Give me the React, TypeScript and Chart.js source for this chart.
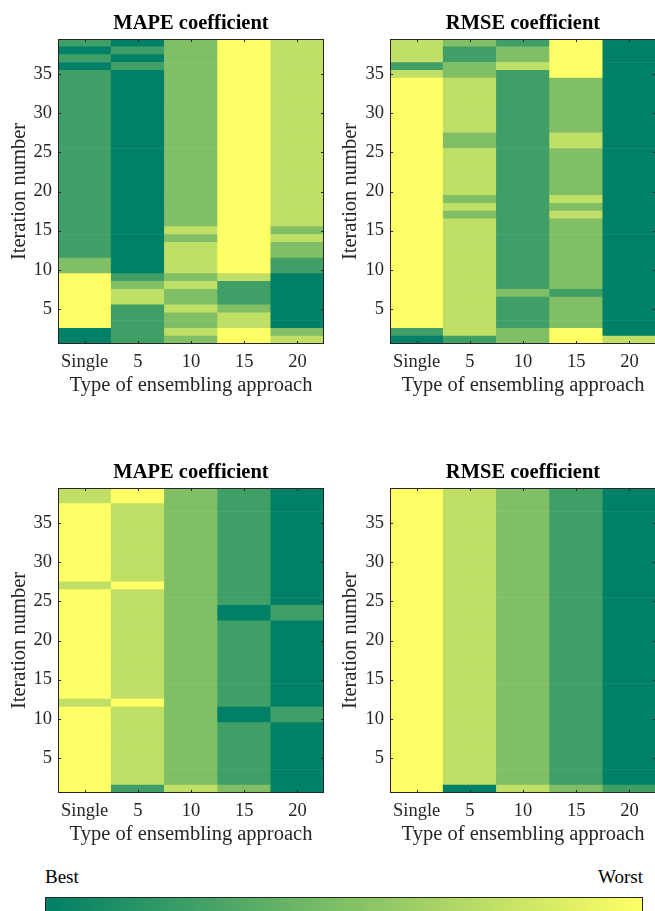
import React, { useEffect, useRef } from "react";
import { Chart, registerables } from "chart.js";

Chart.register(...registerables);

// ---------- data ----------
const CATEGORIES = ["Single", "5", "10", "15", "20"];
const Y_TICKS = [5, 10, 15, 20, 25, 30, 35];
const ITERATIONS = [
  1, 2, 3, 4, 5, 6, 7, 8, 9, 10, 11, 12, 13, 14, 15, 16, 17, 18, 19, 20,
  21, 22, 23, 24, 25, 26, 27, 28, 29, 30, 31, 32, 33, 34, 35, 36, 37, 38, 39,
];
// rank level per iteration (1 = best ... 5 = worst), listed from iteration 1 to 39
const MAPE_TOP_SINGLE = [
  1, 1, 5, 5, 5, 5, 5, 5, 5, 3,
  3, 2, 2, 2, 2, 2, 2, 2, 2, 2,
  2, 2, 2, 2, 2, 2, 2, 2, 2, 2,
  2, 2, 2, 2, 2, 1, 2, 1, 2,
];
const MAPE_TOP_5 = [
  2, 2, 2, 2, 2, 4, 4, 3, 2, 1,
  1, 1, 1, 1, 1, 1, 1, 1, 1, 1,
  1, 1, 1, 1, 1, 1, 1, 1, 1, 1,
  1, 1, 1, 1, 1, 2, 1, 2, 1,
];
const MAPE_TOP_10 = [
  3, 4, 3, 3, 4, 3, 3, 4, 3, 4,
  4, 4, 4, 3, 4, 3, 3, 3, 3, 3,
  3, 3, 3, 3, 3, 3, 3, 3, 3, 3,
  3, 3, 3, 3, 3, 3, 3, 3, 3,
];
const MAPE_TOP_15 = [
  5, 5, 4, 4, 3, 2, 2, 2, 4, 5,
  5, 5, 5, 5, 5, 5, 5, 5, 5, 5,
  5, 5, 5, 5, 5, 5, 5, 5, 5, 5,
  5, 5, 5, 5, 5, 5, 5, 5, 5,
];
const MAPE_TOP_20 = [
  4, 3, 1, 1, 1, 1, 1, 1, 1, 2,
  2, 3, 3, 4, 3, 4, 4, 4, 4, 4,
  4, 4, 4, 4, 4, 4, 4, 4, 4, 4,
  4, 4, 4, 4, 4, 4, 4, 4, 4,
];

const RMSE_TOP_SINGLE = [
  1, 2, 5, 5, 5, 5, 5, 5, 5, 5,
  5, 5, 5, 5, 5, 5, 5, 5, 5, 5,
  5, 5, 5, 5, 5, 5, 5, 5, 5, 5,
  5, 5, 5, 5, 4, 2, 4, 4, 4,
];
const RMSE_TOP_5 = [
  2, 4, 4, 4, 4, 4, 4, 4, 4, 4,
  4, 4, 4, 4, 4, 4, 3, 4, 3, 4,
  4, 4, 4, 4, 4, 3, 3, 4, 4, 4,
  4, 4, 4, 4, 3, 3, 2, 2, 3,
];
const RMSE_TOP_10 = [
  3, 3, 2, 2, 2, 2, 3, 2, 2, 2,
  2, 2, 2, 2, 2, 2, 2, 2, 2, 2,
  2, 2, 2, 2, 2, 2, 2, 2, 2, 2,
  2, 2, 2, 2, 2, 4, 3, 3, 2,
];
const RMSE_TOP_15 = [
  5, 5, 3, 3, 3, 3, 2, 3, 3, 3,
  3, 3, 3, 3, 3, 3, 4, 3, 4, 3,
  3, 3, 3, 3, 3, 4, 4, 3, 3, 3,
  3, 3, 3, 3, 5, 5, 5, 5, 5,
];
const RMSE_TOP_20 = [
  4, 1, 1, 1, 1, 1, 1, 1, 1, 1,
  1, 1, 1, 1, 1, 1, 1, 1, 1, 1,
  1, 1, 1, 1, 1, 1, 1, 1, 1, 1,
  1, 1, 1, 1, 1, 1, 1, 1, 1,
];

const MAPE_BOTTOM_SINGLE = [
  5, 5, 5, 5, 5, 5, 5, 5, 5, 5,
  5, 4, 5, 5, 5, 5, 5, 5, 5, 5,
  5, 5, 5, 5, 5, 5, 4, 5, 5, 5,
  5, 5, 5, 5, 5, 5, 5, 4, 4,
];
const MAPE_BOTTOM_5 = [
  2, 4, 4, 4, 4, 4, 4, 4, 4, 4,
  4, 5, 4, 4, 4, 4, 4, 4, 4, 4,
  4, 4, 4, 4, 4, 4, 5, 4, 4, 4,
  4, 4, 4, 4, 4, 4, 4, 5, 5,
];
const MAPE_BOTTOM_10 = [
  4, 3, 3, 3, 3, 3, 3, 3, 3, 3,
  3, 3, 3, 3, 3, 3, 3, 3, 3, 3,
  3, 3, 3, 3, 3, 3, 3, 3, 3, 3,
  3, 3, 3, 3, 3, 3, 3, 3, 3,
];
const MAPE_BOTTOM_15 = [
  3, 2, 2, 2, 2, 2, 2, 2, 2, 1,
  1, 2, 2, 2, 2, 2, 2, 2, 2, 2,
  2, 2, 1, 1, 2, 2, 2, 2, 2, 2,
  2, 2, 2, 2, 2, 2, 2, 2, 2,
];
const MAPE_BOTTOM_20 = [
  1, 1, 1, 1, 1, 1, 1, 1, 1, 2,
  2, 1, 1, 1, 1, 1, 1, 1, 1, 1,
  1, 1, 2, 2, 1, 1, 1, 1, 1, 1,
  1, 1, 1, 1, 1, 1, 1, 1, 1,
];

const RMSE_BOTTOM_SINGLE = [
  5, 5, 5, 5, 5, 5, 5, 5, 5, 5,
  5, 5, 5, 5, 5, 5, 5, 5, 5, 5,
  5, 5, 5, 5, 5, 5, 5, 5, 5, 5,
  5, 5, 5, 5, 5, 5, 5, 5, 5,
];
const RMSE_BOTTOM_5 = [
  1, 4, 4, 4, 4, 4, 4, 4, 4, 4,
  4, 4, 4, 4, 4, 4, 4, 4, 4, 4,
  4, 4, 4, 4, 4, 4, 4, 4, 4, 4,
  4, 4, 4, 4, 4, 4, 4, 4, 4,
];
const RMSE_BOTTOM_10 = [
  4, 3, 3, 3, 3, 3, 3, 3, 3, 3,
  3, 3, 3, 3, 3, 3, 3, 3, 3, 3,
  3, 3, 3, 3, 3, 3, 3, 3, 3, 3,
  3, 3, 3, 3, 3, 3, 3, 3, 3,
];
const RMSE_BOTTOM_15 = [
  3, 2, 2, 2, 2, 2, 2, 2, 2, 2,
  2, 2, 2, 2, 2, 2, 2, 2, 2, 2,
  2, 2, 2, 2, 2, 2, 2, 2, 2, 2,
  2, 2, 2, 2, 2, 2, 2, 2, 2,
];
const RMSE_BOTTOM_20 = [
  2, 1, 1, 1, 1, 1, 1, 1, 1, 1,
  1, 1, 1, 1, 1, 1, 1, 1, 1, 1,
  1, 1, 1, 1, 1, 1, 1, 1, 1, 1,
  1, 1, 1, 1, 1, 1, 1, 1, 1,
];

const TITLES = ["MAPE coefficient", "RMSE coefficient", "MAPE coefficient", "RMSE coefficient"];
const X_TITLE = "Type of ensembling approach";
const Y_TITLE = "Iteration number";
const LEGEND_LOW = "Best";
const LEGEND_HIGH = "Worst";

// ---------- styles ----------
// MATLAB "summer" colormap sampled at 5 levels
const LEVEL_COLORS = ["#008066", "#409f66", "#80bf66", "#bfdf66", "#ffff66"];
const SERIF = "'Liberation Serif', 'Times New Roman', serif";
const AXIS_COLOR = "#262626";

const PANEL_LAYOUT = [
  { left: 0, top: 0, width: 330, padRight: 6, yAxisWidth: 58, yTitlePad: 8 },
  { left: 330, top: 0, width: 326, padRight: 0, yAxisWidth: 60, yTitlePad: 9 },
  { left: 0, top: 449, width: 330, padRight: 6, yAxisWidth: 58, yTitlePad: 8 },
  { left: 330, top: 449, width: 326, padRight: 0, yAxisWidth: 60, yTitlePad: 9 },
];
const PANEL_HEIGHT = 398;

const PANEL_COLUMNS = [
  [MAPE_TOP_SINGLE, MAPE_TOP_5, MAPE_TOP_10, MAPE_TOP_15, MAPE_TOP_20],
  [RMSE_TOP_SINGLE, RMSE_TOP_5, RMSE_TOP_10, RMSE_TOP_15, RMSE_TOP_20],
  [MAPE_BOTTOM_SINGLE, MAPE_BOTTOM_5, MAPE_BOTTOM_10, MAPE_BOTTOM_15, MAPE_BOTTOM_20],
  [RMSE_BOTTOM_SINGLE, RMSE_BOTTOM_5, RMSE_BOTTOM_10, RMSE_BOTTOM_15, RMSE_BOTTOM_20],
];

const boxPlugin = {
  id: "matlabBox",
  afterDatasetsDraw(chart: any) {
    const { ctx, chartArea, scales } = chart;
    const { left, top, right, bottom } = chartArea;
    const x = scales.x;
    const y = scales.y;
    const TL = 3;
    ctx.save();
    ctx.strokeStyle = AXIS_COLOR;
    ctx.lineWidth = 1;
    ctx.beginPath();
    CATEGORIES.forEach((_, i) => {
      const px = Math.round(x.getPixelForValue(i)) + 0.5;
      ctx.moveTo(px, bottom);
      ctx.lineTo(px, bottom - TL);
      ctx.moveTo(px, top);
      ctx.lineTo(px, top + TL);
    });
    Y_TICKS.forEach((v) => {
      const py = Math.round(y.getPixelForValue(v)) + 0.5;
      ctx.moveTo(left, py);
      ctx.lineTo(left + TL, py);
      ctx.moveTo(right, py);
      ctx.lineTo(right - TL, py);
    });
    ctx.stroke();
    ctx.strokeRect(
      Math.round(left) + 0.5,
      Math.round(top) + 0.5,
      Math.round(right) - Math.round(left) - 1,
      Math.round(bottom) - Math.round(top) - 1
    );
    ctx.restore();
  },
};

function HeatPanel({ index }: { index: number }) {
  const ref = useRef<HTMLCanvasElement | null>(null);
  const layout = PANEL_LAYOUT[index];
  useEffect(() => {
    if (!ref.current) return;
    const cols = PANEL_COLUMNS[index];
    const datasets = ITERATIONS.map((it, r) => ({
      label: "Iteration " + it,
      data: cols.map(() => [it - 0.5, it + 0.5]),
      backgroundColor: cols.map((col) => LEVEL_COLORS[col[r] - 1]),
      borderWidth: 0,
      grouped: false,
      barPercentage: 1,
      categoryPercentage: 1,
    }));
    const chart = new Chart(ref.current, {
      type: "bar",
      data: { labels: CATEGORIES, datasets: datasets as any },
      options: {
        animation: false,
        responsive: false,
        maintainAspectRatio: false,
        devicePixelRatio: 1,
        layout: { padding: { left: 0, right: layout.padRight, top: 0, bottom: 0 } },
        plugins: {
          legend: { display: false },
          tooltip: { enabled: false },
          title: {
            display: true,
            text: TITLES[index],
            fullSize: false,
            color: "#000",
            font: { family: SERIF, size: 20.5, weight: "bold", lineHeight: "24px" },
            padding: { top: 12, bottom: 3 },
          },
        },
        scales: {
          x: {
            type: "category",
            offset: true,
            grid: { display: false, drawTicks: false },
            border: { display: false },
            ticks: {
              color: AXIS_COLOR,
              font: { family: SERIF, size: 18.5, lineHeight: "22px" },
              padding: 7,
              maxRotation: 0,
              autoSkip: false,
            },
            title: {
              display: true,
              text: X_TITLE,
              color: AXIS_COLOR,
              font: { family: SERIF, size: 20.5, lineHeight: "24px" },
              padding: { top: 0, bottom: 0 },
            },
            afterFit: (s: any) => {
              s.height = 54;
            },
          },
          y: {
            type: "linear",
            min: 0.5,
            max: 39.5,
            grid: { display: false, drawTicks: false },
            border: { display: false },
            ticks: {
              color: AXIS_COLOR,
              font: { family: SERIF, size: 18.5, lineHeight: "22px" },
              padding: 6,
            },
            afterBuildTicks: (s: any) => {
              s.ticks = Y_TICKS.map((v) => ({ value: v }));
            },
            title: {
              display: true,
              text: Y_TITLE,
              color: AXIS_COLOR,
              font: { family: SERIF, size: 20.5, lineHeight: "24px" },
              padding: { top: layout.yTitlePad, bottom: 0 },
            },
            afterFit: (s: any) => {
              s.width = layout.yAxisWidth;
            },
          },
        },
      } as any,
      plugins: [boxPlugin],
    });
    return () => chart.destroy();
  }, [index]);
  return (
    <canvas
      ref={ref}
      width={layout.width}
      height={PANEL_HEIGHT}
      style={{
        position: "absolute",
        left: layout.left,
        top: layout.top,
        width: layout.width,
        height: PANEL_HEIGHT,
      }}
    />
  );
}

export default function App() {
  return (
    <div
      style={{
        position: "absolute",
        left: 0,
        top: 0,
        width: 655,
        height: 911,
        overflow: "hidden",
        background: "#fff",
      }}
    >
      {PANEL_LAYOUT.map((_, i) => (
        <HeatPanel key={i} index={i} />
      ))}
      <span
        style={{
          position: "absolute",
          left: 45,
          top: 867,
          fontFamily: SERIF,
          fontSize: 19,
          lineHeight: "19px",
          color: "#000",
          whiteSpace: "nowrap",
        }}
      >
        {LEGEND_LOW}
      </span>
      <span
        style={{
          position: "absolute",
          right: 655 - 643,
          top: 867,
          fontFamily: SERIF,
          fontSize: 19,
          lineHeight: "19px",
          color: "#000",
          whiteSpace: "nowrap",
        }}
      >
        {LEGEND_HIGH}
      </span>
      <div
        style={{
          position: "absolute",
          left: 45,
          top: 897,
          width: 596,
          height: 24,
          border: "1px solid " + AXIS_COLOR,
          background: "linear-gradient(to right, " + LEVEL_COLORS[0] + ", " + LEVEL_COLORS[4] + ")",
        }}
      />
    </div>
  );
}
